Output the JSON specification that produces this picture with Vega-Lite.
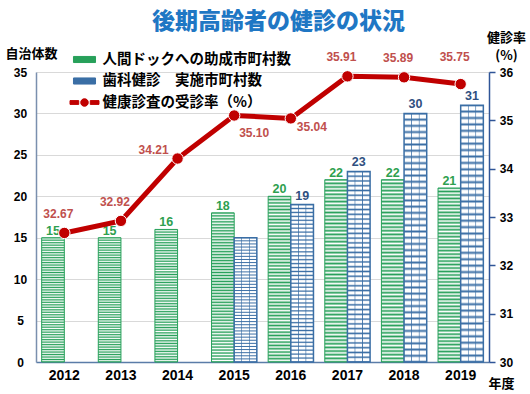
{
  "$schema": "https://vega.github.io/schema/vega-lite/v6.json",
  "width": 453,
  "height": 290,
  "autosize": {"type": "none"},
  "padding": {"left": 36, "top": 72, "right": 41, "bottom": 32},
  "background": "white",
  "title": {
    "text": "後期高齢者の健診の状況",
    "font": "Noto Sans CJK JP",
    "fontSize": 23,
    "fontWeight": 900,
    "color": "#1f77c4",
    "anchor": "middle",
    "frame": "group",
    "dx": 16,
    "dy": 10,
    "offset": -4,
    "baseline": "middle"
  },
  "datasets": {
    "bars": [
      {"year": "2012", "kind": "dock", "value": 15},
      {"year": "2013", "kind": "dock", "value": 15},
      {"year": "2014", "kind": "dock", "value": 16},
      {"year": "2015", "kind": "dock", "value": 18},
      {"year": "2016", "kind": "dock", "value": 20},
      {"year": "2017", "kind": "dock", "value": 22},
      {"year": "2018", "kind": "dock", "value": 22},
      {"year": "2019", "kind": "dock", "value": 21},
      {"year": "2015", "kind": "dental", "value": 15},
      {"year": "2016", "kind": "dental", "value": 19},
      {"year": "2017", "kind": "dental", "value": 23},
      {"year": "2018", "kind": "dental", "value": 30},
      {"year": "2019", "kind": "dental", "value": 31}
    ],
    "rate": [
      {"year": "2012", "rate": 32.67, "series": "健康診査の受診率（%）"},
      {"year": "2013", "rate": 32.92, "series": "健康診査の受診率（%）"},
      {"year": "2014", "rate": 34.21, "series": "健康診査の受診率（%）"},
      {"year": "2015", "rate": 35.10, "series": "健康診査の受診率（%）"},
      {"year": "2016", "rate": 35.04, "series": "健康診査の受診率（%）"},
      {"year": "2017", "rate": 35.91, "series": "健康診査の受診率（%）"},
      {"year": "2018", "rate": 35.89, "series": "健康診査の受診率（%）"},
      {"year": "2019", "rate": 35.75, "series": "健康診査の受診率（%）"}
    ]
  },
  "encoding": {
    "x": {
      "field": "year",
      "type": "ordinal",
      "scale": {"paddingInner": 0.2, "paddingOuter": 0.1},
      "axis": {
        "labelAngle": 0,
        "labelFont": "Liberation Sans",
        "labelFontSize": 14,
        "labelFontWeight": "bold",
        "labelColor": "black",
        "labelPadding": 6,
        "ticks": false,
        "tickSize": 0,
        "grid": false,
        "domainColor": "#5a7ca8",
        "domainWidth": 1.5,
        "title": "年度",
        "titleFont": "Noto Sans CJK JP",
        "titleFontSize": 13,
        "titleFontWeight": "bold",
        "titleColor": "black",
        "titleX": 465,
        "titleY": 21,
        "titleAlign": "center",
        "titleBaseline": "middle"
      }
    }
  },
  "layer": [
    {
      "data": {"name": "bars"},
      "encoding": {
        "y": {
          "field": "value",
          "type": "quantitative",
          "scale": {"domain": [0, 35]},
          "axis": {
            "values": [0, 5, 10, 15, 20, 25, 30, 35],
            "grid": true,
            "gridColor": "#d9d9d9",
            "ticks": false,
            "tickSize": 0,
            "labelPadding": 16,
            "labelAlign": "center",
            "labelFont": "Liberation Sans",
            "labelFontSize": 12,
            "labelFontWeight": "bold",
            "labelColor": "black",
            "domainColor": "#7a8fae",
            "domainWidth": 1.5,
            "title": "自治体数",
            "titleAngle": 0,
            "titleX": -5,
            "titleY": -19,
            "titleAlign": "center",
            "titleBaseline": "middle",
            "titleFont": "Noto Sans CJK JP",
            "titleFontSize": 13,
            "titleFontWeight": "bold",
            "titleColor": "black"
          }
        },
        "xOffset": {"field": "kind", "type": "nominal", "scale": {"domain": ["dock", "dental"], "paddingInner": 0}}
      },
      "layer": [
        {
          "transform": [{"filter": "datum.kind === 'dock'"}],
          "mark": {
            "type": "bar",
            "stroke": "#27a05a",
            "strokeWidth": 1,
            "fill": {
              "gradient": "linear", "x1": 0, "y1": 0, "x2": 0, "y2": 1,
              "stops": [
                {"offset": 0, "color": "#27a05a"},{"offset": 0.01, "color": "#ffffff"},{"offset": 0.02, "color": "#27a05a"},{"offset": 0.03, "color": "#ffffff"},{"offset": 0.04, "color": "#27a05a"},{"offset": 0.05, "color": "#ffffff"},{"offset": 0.06, "color": "#27a05a"},{"offset": 0.07, "color": "#ffffff"},{"offset": 0.08, "color": "#27a05a"},{"offset": 0.09, "color": "#ffffff"},
                {"offset": 0.1, "color": "#27a05a"},{"offset": 0.11, "color": "#ffffff"},{"offset": 0.12, "color": "#27a05a"},{"offset": 0.13, "color": "#ffffff"},{"offset": 0.14, "color": "#27a05a"},{"offset": 0.15, "color": "#ffffff"},{"offset": 0.16, "color": "#27a05a"},{"offset": 0.17, "color": "#ffffff"},{"offset": 0.18, "color": "#27a05a"},{"offset": 0.19, "color": "#ffffff"},
                {"offset": 0.2, "color": "#27a05a"},{"offset": 0.21, "color": "#ffffff"},{"offset": 0.22, "color": "#27a05a"},{"offset": 0.23, "color": "#ffffff"},{"offset": 0.24, "color": "#27a05a"},{"offset": 0.25, "color": "#ffffff"},{"offset": 0.26, "color": "#27a05a"},{"offset": 0.27, "color": "#ffffff"},{"offset": 0.28, "color": "#27a05a"},{"offset": 0.29, "color": "#ffffff"},
                {"offset": 0.3, "color": "#27a05a"},{"offset": 0.31, "color": "#ffffff"},{"offset": 0.32, "color": "#27a05a"},{"offset": 0.33, "color": "#ffffff"},{"offset": 0.34, "color": "#27a05a"},{"offset": 0.35, "color": "#ffffff"},{"offset": 0.36, "color": "#27a05a"},{"offset": 0.37, "color": "#ffffff"},{"offset": 0.38, "color": "#27a05a"},{"offset": 0.39, "color": "#ffffff"},
                {"offset": 0.4, "color": "#27a05a"},{"offset": 0.41, "color": "#ffffff"},{"offset": 0.42, "color": "#27a05a"},{"offset": 0.43, "color": "#ffffff"},{"offset": 0.44, "color": "#27a05a"},{"offset": 0.45, "color": "#ffffff"},{"offset": 0.46, "color": "#27a05a"},{"offset": 0.47, "color": "#ffffff"},{"offset": 0.48, "color": "#27a05a"},{"offset": 0.49, "color": "#ffffff"},
                {"offset": 0.5, "color": "#27a05a"},{"offset": 0.51, "color": "#ffffff"},{"offset": 0.52, "color": "#27a05a"},{"offset": 0.53, "color": "#ffffff"},{"offset": 0.54, "color": "#27a05a"},{"offset": 0.55, "color": "#ffffff"},{"offset": 0.56, "color": "#27a05a"},{"offset": 0.57, "color": "#ffffff"},{"offset": 0.58, "color": "#27a05a"},{"offset": 0.59, "color": "#ffffff"},
                {"offset": 0.6, "color": "#27a05a"},{"offset": 0.61, "color": "#ffffff"},{"offset": 0.62, "color": "#27a05a"},{"offset": 0.63, "color": "#ffffff"},{"offset": 0.64, "color": "#27a05a"},{"offset": 0.65, "color": "#ffffff"},{"offset": 0.66, "color": "#27a05a"},{"offset": 0.67, "color": "#ffffff"},{"offset": 0.68, "color": "#27a05a"},{"offset": 0.69, "color": "#ffffff"},
                {"offset": 0.7, "color": "#27a05a"},{"offset": 0.71, "color": "#ffffff"},{"offset": 0.72, "color": "#27a05a"},{"offset": 0.73, "color": "#ffffff"},{"offset": 0.74, "color": "#27a05a"},{"offset": 0.75, "color": "#ffffff"},{"offset": 0.76, "color": "#27a05a"},{"offset": 0.77, "color": "#ffffff"},{"offset": 0.78, "color": "#27a05a"},{"offset": 0.79, "color": "#ffffff"},
                {"offset": 0.8, "color": "#27a05a"},{"offset": 0.81, "color": "#ffffff"},{"offset": 0.82, "color": "#27a05a"},{"offset": 0.83, "color": "#ffffff"},{"offset": 0.84, "color": "#27a05a"},{"offset": 0.85, "color": "#ffffff"},{"offset": 0.86, "color": "#27a05a"},{"offset": 0.87, "color": "#ffffff"},{"offset": 0.88, "color": "#27a05a"},{"offset": 0.89, "color": "#ffffff"},
                {"offset": 0.9, "color": "#27a05a"},{"offset": 0.91, "color": "#ffffff"},{"offset": 0.92, "color": "#27a05a"},{"offset": 0.93, "color": "#ffffff"},{"offset": 0.94, "color": "#27a05a"},{"offset": 0.95, "color": "#ffffff"},{"offset": 0.96, "color": "#27a05a"},{"offset": 0.97, "color": "#ffffff"},{"offset": 0.98, "color": "#27a05a"},{"offset": 0.99, "color": "#ffffff"},
                {"offset": 1, "color": "#27a05a"}
              ]
            }
          }
        },
        {
          "transform": [{"filter": "datum.kind === 'dental'"}],
          "mark": {
            "type": "bar",
            "stroke": "#3a6ea5",
            "strokeWidth": 1.5,
            "fill": {
              "gradient": "linear", "x1": 0, "y1": 0, "x2": 0, "y2": 1,
              "stops": [
                {"offset": 0, "color": "#3a6ea5"},{"offset": 0.008, "color": "#ffffff"},{"offset": 0.017, "color": "#ffffff"},
                {"offset": 0.025, "color": "#3a6ea5"},{"offset": 0.033, "color": "#ffffff"},{"offset": 0.042, "color": "#ffffff"},
                {"offset": 0.05, "color": "#3a6ea5"},{"offset": 0.058, "color": "#ffffff"},{"offset": 0.067, "color": "#ffffff"},
                {"offset": 0.075, "color": "#3a6ea5"},{"offset": 0.083, "color": "#ffffff"},{"offset": 0.092, "color": "#ffffff"},
                {"offset": 0.1, "color": "#3a6ea5"},{"offset": 0.108, "color": "#ffffff"},{"offset": 0.117, "color": "#ffffff"},
                {"offset": 0.125, "color": "#3a6ea5"},{"offset": 0.133, "color": "#ffffff"},{"offset": 0.142, "color": "#ffffff"},
                {"offset": 0.15, "color": "#3a6ea5"},{"offset": 0.158, "color": "#ffffff"},{"offset": 0.167, "color": "#ffffff"},
                {"offset": 0.175, "color": "#3a6ea5"},{"offset": 0.183, "color": "#ffffff"},{"offset": 0.192, "color": "#ffffff"},
                {"offset": 0.2, "color": "#3a6ea5"},{"offset": 0.208, "color": "#ffffff"},{"offset": 0.217, "color": "#ffffff"},
                {"offset": 0.225, "color": "#3a6ea5"},{"offset": 0.233, "color": "#ffffff"},{"offset": 0.242, "color": "#ffffff"},
                {"offset": 0.25, "color": "#3a6ea5"},{"offset": 0.258, "color": "#ffffff"},{"offset": 0.267, "color": "#ffffff"},
                {"offset": 0.275, "color": "#3a6ea5"},{"offset": 0.283, "color": "#ffffff"},{"offset": 0.292, "color": "#ffffff"},
                {"offset": 0.3, "color": "#3a6ea5"},{"offset": 0.308, "color": "#ffffff"},{"offset": 0.317, "color": "#ffffff"},
                {"offset": 0.325, "color": "#3a6ea5"},{"offset": 0.333, "color": "#ffffff"},{"offset": 0.342, "color": "#ffffff"},
                {"offset": 0.35, "color": "#3a6ea5"},{"offset": 0.358, "color": "#ffffff"},{"offset": 0.367, "color": "#ffffff"},
                {"offset": 0.375, "color": "#3a6ea5"},{"offset": 0.383, "color": "#ffffff"},{"offset": 0.392, "color": "#ffffff"},
                {"offset": 0.4, "color": "#3a6ea5"},{"offset": 0.408, "color": "#ffffff"},{"offset": 0.417, "color": "#ffffff"},
                {"offset": 0.425, "color": "#3a6ea5"},{"offset": 0.433, "color": "#ffffff"},{"offset": 0.442, "color": "#ffffff"},
                {"offset": 0.45, "color": "#3a6ea5"},{"offset": 0.458, "color": "#ffffff"},{"offset": 0.467, "color": "#ffffff"},
                {"offset": 0.475, "color": "#3a6ea5"},{"offset": 0.483, "color": "#ffffff"},{"offset": 0.492, "color": "#ffffff"},
                {"offset": 0.5, "color": "#3a6ea5"},{"offset": 0.508, "color": "#ffffff"},{"offset": 0.517, "color": "#ffffff"},
                {"offset": 0.525, "color": "#3a6ea5"},{"offset": 0.533, "color": "#ffffff"},{"offset": 0.542, "color": "#ffffff"},
                {"offset": 0.55, "color": "#3a6ea5"},{"offset": 0.558, "color": "#ffffff"},{"offset": 0.567, "color": "#ffffff"},
                {"offset": 0.575, "color": "#3a6ea5"},{"offset": 0.583, "color": "#ffffff"},{"offset": 0.592, "color": "#ffffff"},
                {"offset": 0.6, "color": "#3a6ea5"},{"offset": 0.608, "color": "#ffffff"},{"offset": 0.617, "color": "#ffffff"},
                {"offset": 0.625, "color": "#3a6ea5"},{"offset": 0.633, "color": "#ffffff"},{"offset": 0.642, "color": "#ffffff"},
                {"offset": 0.65, "color": "#3a6ea5"},{"offset": 0.658, "color": "#ffffff"},{"offset": 0.667, "color": "#ffffff"},
                {"offset": 0.675, "color": "#3a6ea5"},{"offset": 0.683, "color": "#ffffff"},{"offset": 0.692, "color": "#ffffff"},
                {"offset": 0.7, "color": "#3a6ea5"},{"offset": 0.708, "color": "#ffffff"},{"offset": 0.717, "color": "#ffffff"},
                {"offset": 0.725, "color": "#3a6ea5"},{"offset": 0.733, "color": "#ffffff"},{"offset": 0.742, "color": "#ffffff"},
                {"offset": 0.75, "color": "#3a6ea5"},{"offset": 0.758, "color": "#ffffff"},{"offset": 0.767, "color": "#ffffff"},
                {"offset": 0.775, "color": "#3a6ea5"},{"offset": 0.783, "color": "#ffffff"},{"offset": 0.792, "color": "#ffffff"},
                {"offset": 0.8, "color": "#3a6ea5"},{"offset": 0.808, "color": "#ffffff"},{"offset": 0.817, "color": "#ffffff"},
                {"offset": 0.825, "color": "#3a6ea5"},{"offset": 0.833, "color": "#ffffff"},{"offset": 0.842, "color": "#ffffff"},
                {"offset": 0.85, "color": "#3a6ea5"},{"offset": 0.858, "color": "#ffffff"},{"offset": 0.867, "color": "#ffffff"},
                {"offset": 0.875, "color": "#3a6ea5"},{"offset": 0.883, "color": "#ffffff"},{"offset": 0.892, "color": "#ffffff"},
                {"offset": 0.9, "color": "#3a6ea5"},{"offset": 0.908, "color": "#ffffff"},{"offset": 0.917, "color": "#ffffff"},
                {"offset": 0.925, "color": "#3a6ea5"},{"offset": 0.933, "color": "#ffffff"},{"offset": 0.942, "color": "#ffffff"},
                {"offset": 0.95, "color": "#3a6ea5"},{"offset": 0.958, "color": "#ffffff"},{"offset": 0.967, "color": "#ffffff"},
                {"offset": 0.975, "color": "#3a6ea5"},{"offset": 0.983, "color": "#ffffff"},{"offset": 0.992, "color": "#ffffff"},
                {"offset": 1, "color": "#3a6ea5"}
              ]
            }
          }
        },
        {
          "transform": [{"filter": "datum.kind === 'dental'"}],
          "mark": {
            "type": "bar",
            "strokeWidth": 0,
            "fill": {
              "gradient": "linear", "x1": 0, "y1": 0, "x2": 1, "y2": 0,
              "stops": [
                {"offset": 0, "color": "rgba(58,110,165,0)"},
                {"offset": 0.3, "color": "rgba(58,110,165,0)"},
                {"offset": 0.333, "color": "rgba(58,110,165,0.9)"},
                {"offset": 0.366, "color": "rgba(58,110,165,0)"},
                {"offset": 0.633, "color": "rgba(58,110,165,0)"},
                {"offset": 0.666, "color": "rgba(58,110,165,0.9)"},
                {"offset": 0.7, "color": "rgba(58,110,165,0)"},
                {"offset": 1, "color": "rgba(58,110,165,0)"}
              ]
            }
          }
        },
        {
          "transform": [{"filter": "datum.kind === 'dock'"}],
          "mark": {"type": "text", "baseline": "alphabetic", "dy": -3, "font": "Liberation Sans", "fontSize": 12.5, "fontWeight": "bold", "color": "#2ea04f"},
          "encoding": {"text": {"field": "value", "type": "quantitative"}}
        },
        {
          "transform": [{"filter": "datum.kind === 'dental' && datum.year !== '2015'"}],
          "mark": {"type": "text", "baseline": "alphabetic", "dy": -5, "font": "Liberation Sans", "fontSize": 12.5, "fontWeight": "bold", "color": "#2f4f7f"},
          "encoding": {"text": {"field": "value", "type": "quantitative"}}
        }
      ]
    },
    {
      "data": {"name": "rate"},
      "encoding": {
        "y": {
          "field": "rate",
          "type": "quantitative",
          "scale": {"domain": [30, 36], "zero": false},
          "axis": {
            "orient": "right",
            "values": [30, 31, 32, 33, 34, 35, 36],
            "grid": false,
            "ticks": true,
            "tickSize": 6,
            "tickColor": "#2f5597",
            "tickWidth": 1.5,
            "domainColor": "#2f5597",
            "domainWidth": 1.5,
            "labelPadding": 11,
            "labelAlign": "center",
            "labelFont": "Liberation Sans",
            "labelFontSize": 12,
            "labelFontWeight": "bold",
            "labelColor": "black",
            "title": ["健診率", "(%)"],
            "titleAngle": 0,
            "titleX": 17,
            "titleY": -35,
            "titleAlign": "center",
            "titleBaseline": "middle",
            "titleLineHeight": 18,
            "titleFont": "Noto Sans CJK JP",
            "titleFontSize": 13,
            "titleFontWeight": "bold",
            "titleColor": "black"
          }
        }
      },
      "layer": [
        {
          "mark": {
            "type": "line",
            "strokeWidth": 5,
            "point": {"filled": true, "size": 130, "stroke": "white", "strokeWidth": 1}
          },
          "encoding": {
            "color": {
              "field": "series",
              "type": "nominal",
              "scale": {
                "domain": ["人間ドックへの助成市町村数", "歯科健診　実施市町村数", "健康診査の受診率（%）"],
                "range": ["#27a05a", "#3a6ea5", "#c00000"]
              },
              "legend": {
                "orient": "none",
                "legendX": 37.5,
                "legendY": -23.5,
                "title": null,
                "direction": "vertical",
                "symbolSize": 441,
                "rowPadding": 3.5,
                "labelOffset": 7,
                "padding": 0,
                "labelLimit": 400,
                "labelFont": "Noto Sans CJK JP",
                "labelFontSize": 14.5,
                "labelFontWeight": "bold",
                "labelColor": "black",
                "encode": {
                  "symbols": {
                    "update": {
                      "shape": [
                        {"test": "datum.value === '健康診査の受診率（%）'", "value": "M-1.38,-0.18H-0.55V0.18H-1.38Z M0.55,-0.18H1.38V0.18H0.55Z M-0.36,0A0.36,0.36 0 1,0 0.36,0A0.36,0.36 0 1,0 -0.36,0Z"},
                        {"value": "M-1.05,-0.29H1.05V0.29H-1.05Z"}
                      ],
                      "fill": [
                        {"test": "datum.value === '人間ドックへの助成市町村数'", "value": {"gradient": "linear", "x1": 0, "y1": 0, "x2": 0, "y2": 1, "stops": [{"offset": 0, "color": "#27a05a"}, {"offset": 0.2, "color": "#27a05a"}, {"offset": 0.2, "color": "#ffffff"}, {"offset": 0.4, "color": "#ffffff"}, {"offset": 0.4, "color": "#27a05a"}, {"offset": 0.6, "color": "#27a05a"}, {"offset": 0.6, "color": "#ffffff"}, {"offset": 0.8, "color": "#ffffff"}, {"offset": 0.8, "color": "#27a05a"}, {"offset": 1, "color": "#27a05a"}]}},
                        {"test": "datum.value === '歯科健診　実施市町村数'", "value": {"gradient": "linear", "x1": 0, "y1": 0, "x2": 0, "y2": 1, "stops": [{"offset": 0, "color": "#ffffff"}, {"offset": 0.42, "color": "#ffffff"}, {"offset": 0.42, "color": "#3a6ea5"}, {"offset": 0.58, "color": "#3a6ea5"}, {"offset": 0.58, "color": "#ffffff"}, {"offset": 1, "color": "#ffffff"}]}},
                        {"value": "#c00000"}
                      ],
                      "stroke": [
                        {"test": "datum.value === '人間ドックへの助成市町村数'", "value": "#27a05a"},
                        {"test": "datum.value === '歯科健診　実施市町村数'", "value": "#3a6ea5"},
                        {"value": "transparent"}
                      ],
                      "strokeWidth": {"value": 1},
                      "opacity": {"value": 1},
                      "fillOpacity": {"value": 1},
                      "strokeOpacity": {"value": 1}
                    }
                  }
                }
              }
            }
          }
        },
        {
          "transform": [{"filter": {"field": "year", "oneOf": ["2012", "2013", "2017", "2018"]}}],
          "mark": {"type": "text", "dx": -6, "dy": -19, "baseline": "middle", "font": "Liberation Sans", "fontSize": 12, "fontWeight": "bold", "color": "#c0504d"},
          "encoding": {"text": {"field": "rate", "type": "quantitative", "format": ".2f"}}
        },
        {
          "transform": [{"filter": {"field": "year", "oneOf": ["2019"]}}],
          "mark": {"type": "text", "dx": -6, "dy": -27, "baseline": "middle", "font": "Liberation Sans", "fontSize": 12, "fontWeight": "bold", "color": "#c0504d"},
          "encoding": {"text": {"field": "rate", "type": "quantitative", "format": ".2f"}}
        },
        {
          "transform": [{"filter": {"field": "year", "oneOf": ["2014"]}}],
          "mark": {"type": "text", "dx": -24, "dy": -9, "baseline": "middle", "font": "Liberation Sans", "fontSize": 12, "fontWeight": "bold", "color": "#c0504d"},
          "encoding": {"text": {"field": "rate", "type": "quantitative", "format": ".2f"}}
        },
        {
          "transform": [{"filter": {"field": "year", "oneOf": ["2015"]}}],
          "mark": {"type": "text", "dx": 20, "dy": 17, "baseline": "middle", "font": "Liberation Sans", "fontSize": 12, "fontWeight": "bold", "color": "#c0504d"},
          "encoding": {"text": {"field": "rate", "type": "quantitative", "format": ".2f"}}
        },
        {
          "transform": [{"filter": {"field": "year", "oneOf": ["2016"]}}],
          "mark": {"type": "text", "dx": 21, "dy": 9, "baseline": "middle", "font": "Liberation Sans", "fontSize": 12, "fontWeight": "bold", "color": "#c0504d"},
          "encoding": {"text": {"field": "rate", "type": "quantitative", "format": ".2f"}}
        }
      ]
    }
  ],
  "resolve": {"scale": {"y": "independent"}},
  "config": {
    "view": {"stroke": null},
    "font": "Noto Sans CJK JP"
  }
}
